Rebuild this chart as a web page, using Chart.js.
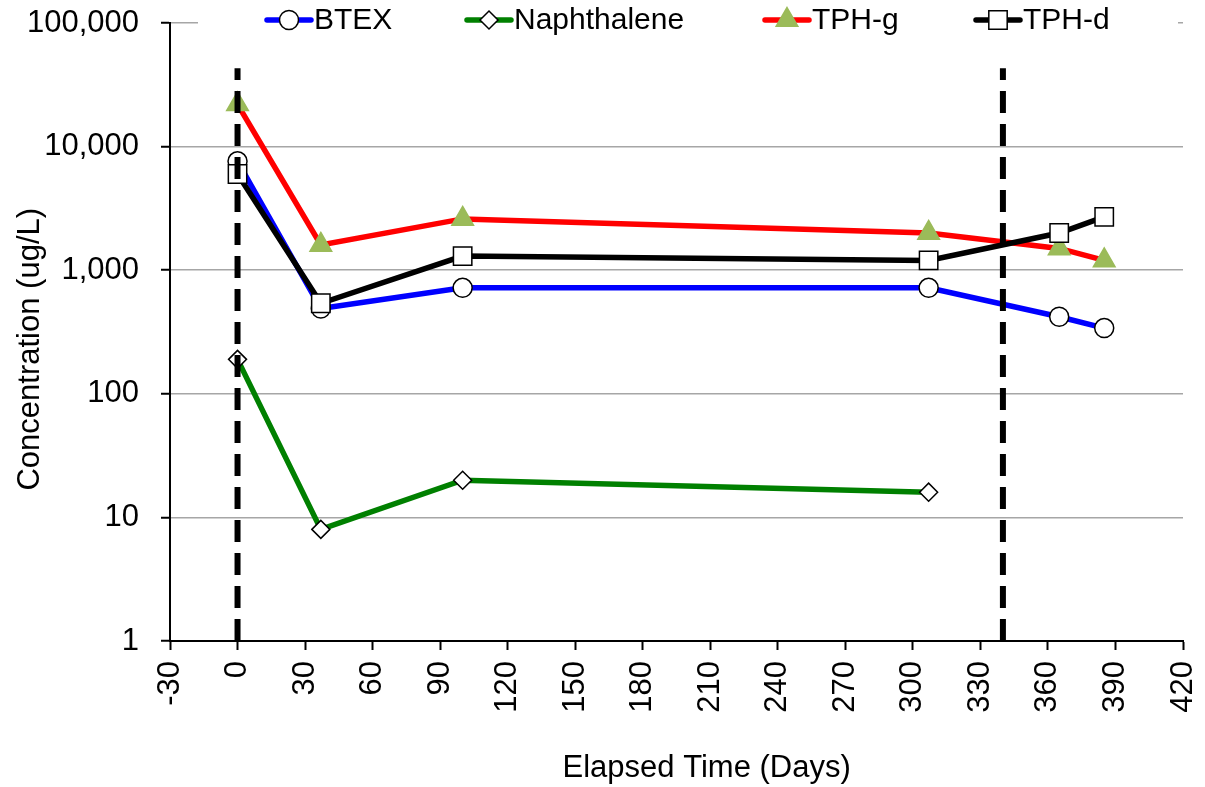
<!DOCTYPE html>
<html>
<head>
<meta charset="utf-8">
<script src="https://cdn.jsdelivr.net/npm/chart.js@4/dist/chart.umd.min.js"></script>
<style>
  body { margin: 0; background: #fff; }
  #wrap { width: 1205px; height: 787px; }
</style>
</head>
<body>
<div id="wrap"><canvas id="concChart"></canvas></div>
<script>
// sampling days and concentrations (ug/L)
const days = [0, 37, 100, 307, 365, 385];
const naphDays = [0, 37, 100, 307];
const btex = [7600, 490, 720, 720, 420, 340];
const naphthalene = [190, 8, 20, 16];
const tphG = [22000, 1600, 2600, 2000, 1500, 1200];
const tphD = [6000, 540, 1300, 1200, 2000, 2700];
// vertical dashed markers (days) and their top value
const markerDays = [0, 340];
const markerTop = 43000;
const yTicks = [1, 10, 100, 1000, 10000, 100000];

const FONT = "'Liberation Sans', Arial, sans-serif";

function pts(xs, ys) {
  return xs.map((x, i) => ({ x: x, y: ys[i] }));
}

const series = [
  { label: 'BTEX', data: pts(days, btex), color: '#0000ff', style: 'circle', r: 9.5, fill: '#fff', border: '#000' },
  { label: 'Naphthalene', data: pts(naphDays, naphthalene), color: '#008000', style: 'rectRot', r: 9, fill: '#fff', border: '#000' },
  { label: 'TPH-g', data: pts(days, tphG), color: '#ff0000', style: 'triangle', r: 12.5, fill: '#9bbb59', border: '#9bbb59' },
  { label: 'TPH-d', data: pts(days, tphD), color: '#000000', style: 'rect', r: 13, fill: '#fff', border: '#000' }
];

const datasets = series.map((s, i) => ({
  label: s.label,
  data: s.data,
  borderColor: s.color,
  borderWidth: 5.5,
  pointStyle: s.style,
  pointRadius: s.r,
  pointBackgroundColor: s.fill,
  pointBorderColor: s.border,
  pointBorderWidth: 1.5,
  tension: 0,
  order: 10 - i
}));

markerDays.forEach(d => {
  datasets.push({
    label: 'marker' + d,
    data: [{ x: d, y: 1 }, { x: d, y: markerTop }],
    borderColor: '#000',
    borderWidth: 6,
    borderDash: [22, 11],
    pointRadius: 0,
    order: 0
  });
});

// legend drawn by hand so it sits on top of the 100,000 gridline like the original
const legendX = [267, 467, 765, 976];
const legendPlugin = {
  id: 'topLegend',
  afterDraw(chart) {
    const ctx = chart.ctx;
    ctx.save();
    ctx.fillStyle = '#fff';
    ctx.fillRect(198, 8, 980, 28);
    const y = 20;
    series.forEach((s, i) => {
      const x0 = legendX[i];
      ctx.strokeStyle = s.color;
      ctx.lineWidth = 5.5;
      ctx.lineCap = 'round';
      ctx.beginPath();
      ctx.moveTo(x0, y);
      ctx.lineTo(x0 + 44, y);
      ctx.stroke();
      ctx.fillStyle = s.fill;
      ctx.strokeStyle = s.border;
      ctx.lineWidth = 1.5;
      Chart.helpers.drawPoint(ctx, { pointStyle: s.style, radius: s.r, borderWidth: 1.5 }, x0 + 22, y);
      ctx.fillStyle = '#000';
      ctx.font = '30px ' + FONT;
      ctx.textBaseline = 'middle';
      ctx.textAlign = 'left';
      ctx.fillText(s.label, x0 + 47, y + 1);
    });
    ctx.restore();
  }
};

new Chart(document.getElementById('concChart'), {
  type: 'line',
  data: { datasets: datasets },
  plugins: [legendPlugin],
  options: {
    responsive: true,
    maintainAspectRatio: false,
    animation: false,
    layout: { padding: { left: 0, right: 22, top: 23, bottom: 0 } },
    plugins: {
      legend: { display: false },
      tooltip: { enabled: false }
    },
    scales: {
      x: {
        type: 'linear',
        min: -30,
        max: 420,
        afterFit: (scale) => {
          scale.height = 146;
          scale.paddingLeft = 0;
          scale.paddingRight = 0;
        },
        ticks: {
          stepSize: 30,
          autoSkip: false,
          maxRotation: 90,
          minRotation: 90,
          padding: 11,
          color: '#000',
          font: { family: FONT, size: 31 }
        },
        grid: { drawOnChartArea: false, drawTicks: true, tickLength: 9, tickColor: '#000', tickWidth: 2 },
        border: { color: '#000', width: 2 },
        title: {
          display: true,
          // leading spaces nudge the title right of the plot centre, as in the original
          text: '       Elapsed Time (Days)',
          color: '#000',
          font: { family: FONT, size: 31 },
          padding: { top: 0, bottom: 0 }
        }
      },
      y: {
        type: 'logarithmic',
        min: 1,
        max: 100000,
        afterFit: (scale) => {
          scale.width = 170;
          scale.paddingTop = 0;
          scale.paddingBottom = 0;
        },
        afterBuildTicks: (scale) => { scale.ticks = yTicks.map(v => ({ value: v })); },
        ticks: {
          padding: 22,
          color: '#000',
          font: { family: FONT, size: 31 },
          callback: (v) => Number(v).toLocaleString('en-US')
        },
        grid: { color: '#a6a6a6', lineWidth: 1.5, tickLength: 9, tickColor: '#000', tickWidth: 2 },
        border: { color: '#000', width: 2 },
        title: {
          display: true,
          text: 'Concentration (ug/L)    ',
          color: '#000',
          font: { family: FONT, size: 31 },
          padding: { top: 12, bottom: 0 }
        }
      }
    }
  }
});
</script>
</body>
</html>
